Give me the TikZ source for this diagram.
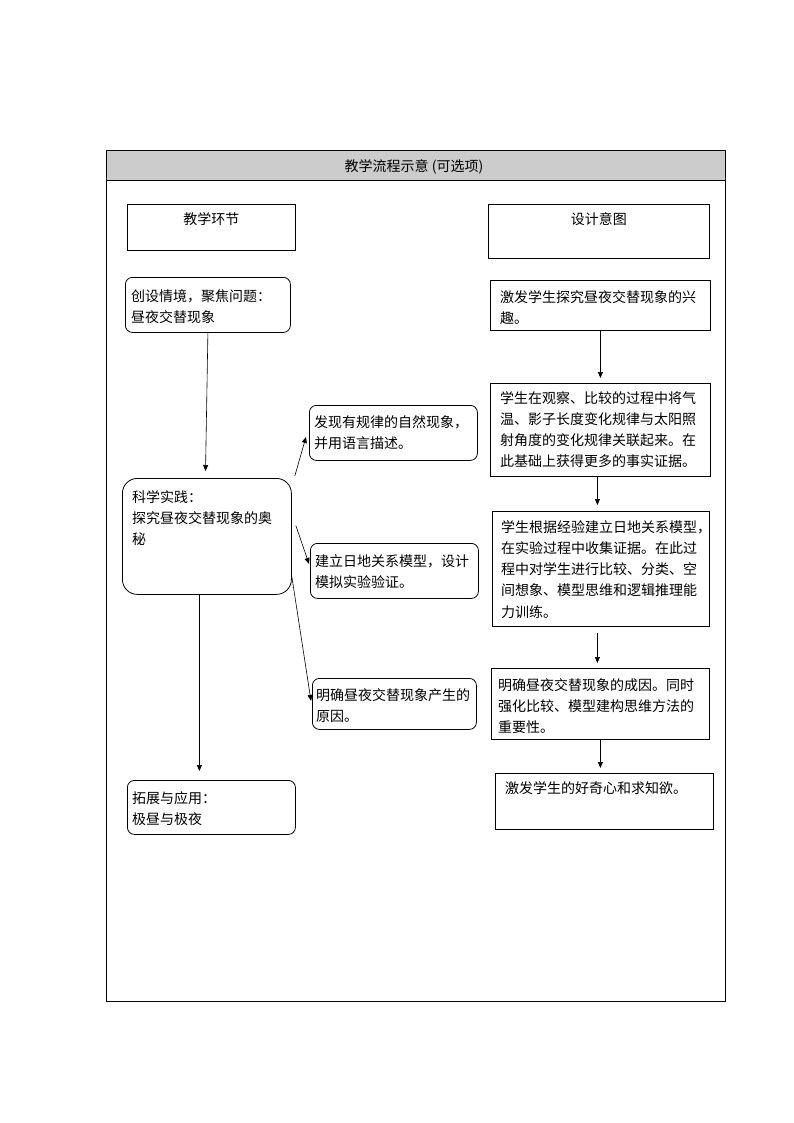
\documentclass[tikz,border=0pt]{standalone}
\usepackage{fontspec}
\setmainfont{Noto Sans CJK SC}
\usetikzlibrary{arrows.meta,calc}
\begin{document}
\begin{tikzpicture}[x=1pt,y=-1pt,
  box/.style={draw, line width=0.8pt, inner sep=0pt, anchor=north west},
  rbox/.style={box, rounded corners=7pt},
  txt/.style={anchor=north west, inner sep=0pt, align=left, font=\fontsize{14}{21.3}\selectfont},
  ctxt/.style={anchor=north, inner sep=0pt, align=center, font=\fontsize{14}{21.3}\selectfont},
  arr/.style={-{Triangle[length=6pt,width=5pt]}, line width=0.6pt}]
\useasboundingbox (0,0) rectangle (794,1123);
% frame and header
\node[box, fill=black!20, minimum width=619pt, minimum height=30pt] (hdr) at (106,150) {};
\node[box, minimum width=619pt, minimum height=851pt] (frame) at (106,150) {};
\node[font=\fontsize{14}{16}\selectfont, inner sep=0pt] (htxt) at (414,167) {教学流程示意 (可选项)};
% column headers
\node[box, minimum width=168pt, minimum height=46pt] (hl) at (127,204) {};
\node[ctxt] (hltxt) at ($(hl.north)+(0,8)$) {教学环节};
\node[box, minimum width=221pt, minimum height=54pt] (hr) at (488,204) {};
\node[ctxt] (hrtxt) at ($(hr.north)+(0,8)$) {设计意图};
% left column
\node[rbox, minimum width=165pt, minimum height=55pt] (l1) at (125,277) {};
\node[txt] (l1t) at (131,289) {创设情境，聚焦问题：\\昼夜交替现象};
\node[rbox, rounded corners=15pt, minimum width=169pt, minimum height=116pt] (l2) at (122,478) {};
\node[txt] (l2t) at (132,490) {科学实践：\\探究昼夜交替现象的奥\\秘};
\node[rbox, minimum width=168pt, minimum height=54pt] (l3) at (127,780) {};
\node[txt] (l3t) at (132,791) {拓展与应用：\\极昼与极夜};
% middle column
\node[rbox, minimum width=168pt, minimum height=55pt] (m1) at (309,405) {};
\node[txt] (m1t) at (314,415) {发现有规律的自然现象，\\并用语言描述。};
\node[rbox, minimum width=168pt, minimum height=55pt] (m2) at (310,543) {};
\node[txt] (m2t) at (315,554) {建立日地关系模型，设计\\模拟实验验证。};
\node[rbox, minimum width=164pt, minimum height=51pt] (m3) at (312,678) {};
\node[txt] (m3t) at (316,688) {明确昼夜交替现象产生的\\原因。};
% right column
\node[box, minimum width=220pt, minimum height=50pt] (r1) at (490,280) {};
\node[txt] (r1t) at (500,290) {激发学生探究昼夜交替现象的兴\\趣。};
\node[box, minimum width=220pt, minimum height=93pt] (r2) at (490,383) {};
\node[txt] (r2t) at (500,391) {学生在观察、比较的过程中将气\\温、影子长度变化规律与太阳照\\射角度的变化规律关联起来。在\\此基础上获得更多的事实证据。};
\node[box, minimum width=217pt, minimum height=115pt] (r3) at (492,511) {};
\node[txt] (r3t) at (501,520) {学生根据经验建立日地关系模型，\\在实验过程中收集证据。在此过\\程中对学生进行比较、分类、空\\间想象、模型思维和逻辑推理能\\力训练。};
\node[box, minimum width=218pt, minimum height=71pt] (r4) at (491,668) {};
\node[txt] (r4t) at (498,678) {明确昼夜交替现象的成因。同时\\强化比较、模型建构思维方法的\\重要性。};
\node[box, minimum width=218pt, minimum height=56pt] (r5) at (495,773) {};
\node[txt] (r5t) at (505,781) {激发学生的好奇心和求知欲。};
% connector end points
\coordinate (l2b) at ($(l2.south)+(-7.5,0)$);
\coordinate (r2b) at ($(r2.south)+(-3,0)$);
\coordinate (r3b) at ($(r3.south)+(-3.5,0)$);
% connectors
\draw[arr, shorten >=7pt] (l1.south) -- ($(l2.north)+(-1.5,0)$);
\draw[arr] ($(l2.north east)+(3,-2)$) -- ($(m1.west)+(-3,4)$);
\draw[arr] ($(l2.east)+(4,-11)$) -- ($(m2.west)+(-1,-7)$);
\draw[arr] ($(l2.east)+(0,40)$) -- ($(m3.west)+(-1,-3)$);
\draw[arr, shorten >=9pt] (l2b) -- (l2b |- l3.north);
\draw[arr, shorten >=5pt] (r1.south) -- (r2.north);
\draw[arr, shorten >=6pt] (r2b) -- (r2b |- r3.north);
\draw[arr, shorten <=6pt, shorten >=5pt] (r3b) -- (r3b |- r4.north);
\draw[arr, shorten >=5pt] (r4.south) -- (r4.south |- r5.north);
\end{tikzpicture}
\end{document}
